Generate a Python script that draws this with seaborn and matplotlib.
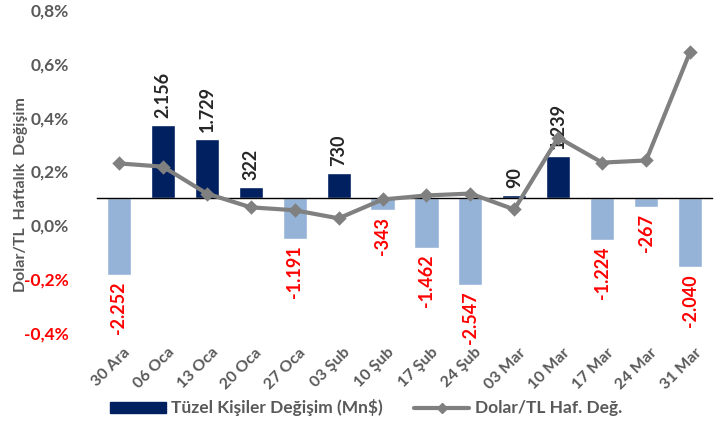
import numpy as np
import pandas as pd
import matplotlib
matplotlib.use('Agg')
import matplotlib.pyplot as plt
from matplotlib.lines import Line2D
from matplotlib.patches import Patch
import seaborn as sns

# data
weeks = ['30 Ara', '06 Oca', '13 Oca', '20 Oca', '27 Oca', '03 Şub', '10 Şub',
         '17 Şub', '24 Şub', '03 Mar', '10 Mar', '17 Mar', '24 Mar', '31 Mar']
# Tüzel kişiler weekly change (Mn$)
tuzel = [-2252, 2156, 1729, 322, -1191, 730, -343, -1462, -2547, 90, 1239, -1224, -267, -2040]
# Dolar/TL weekly change (%)
usd_chg = [0.230, 0.218, 0.118, 0.067, 0.056, 0.026, 0.096,
           0.111, 0.118, 0.059, 0.326, 0.233, 0.241, 0.644]

pct_ticks = [-0.4, -0.2, 0.0, 0.2, 0.4, 0.6, 0.8]

navy = '#002060'
light = '#95B3D7'
grey = '#808080'
txt = '#595959'
red = '#FF0000'

sns.set_style('white')
plt.rcParams['font.family'] = ['Lato', 'DejaVu Sans']
plt.rcParams['font.weight'] = 'bold'

df = pd.DataFrame({'week': weeks, 'tuzel': tuzel, 'usd': usd_chg})
df['sign'] = np.where(df['tuzel'] >= 0, 'pos', 'neg')


def fmt_tr(v):
    # thousands with a dot, Turkish style
    return f'{v:,}'.replace(',', '.')


fig = plt.figure(figsize=(7.21, 4.26), dpi=100)
ax = fig.add_axes([97 / 721, 1 - 333 / 426, 615 / 721, 323 / 426])
ax2 = ax.twinx()

# bars (secondary scale, hidden)
sns.barplot(data=df, x='week', y='tuzel', hue='sign', palette={'pos': navy, 'neg': light},
            dodge=False, width=0.55, legend=False, ax=ax, saturation=1)
ax.set_ylim(-3970, 5530)

for i, v in enumerate(df['tuzel']):
    if v >= 0:
        ax.annotate(fmt_tr(v), (i, v), xytext=(0, 5), textcoords='offset points', rotation=90,
                    ha='center', va='bottom', fontsize=13, fontweight='bold', color='#262626')
    else:
        ax.annotate(fmt_tr(v), (i, v), xytext=(0, -5), textcoords='offset points', rotation=90,
                    ha='center', va='top', fontsize=13, fontweight='bold', color=red)

# line (primary % scale, shown on the left)
sns.pointplot(data=df, x='week', y='usd', color=grey, markers='D', markersize=5,
              linewidth=3, ax=ax2)
ax2.set_ylim(-0.4, 0.8)
ax2.yaxis.set_ticks_position('left')
ax2.yaxis.set_label_position('left')
ax2.set_yticks(pct_ticks)
ax2.set_yticklabels([f'{t:.1f}%'.replace('.', ',') for t in pct_ticks])
for t, lbl in zip(pct_ticks, ax2.get_yticklabels()):
    lbl.set_color(red if t < 0 else txt)
    lbl.set_fontweight('bold')
    lbl.set_fontsize(12.5)
ax2.tick_params(axis='y', length=0, pad=20)
ax2.set_ylabel('Dolar/TL  Haftalık  Değişim', fontsize=11.5, fontweight='bold', color=txt)
ax2.yaxis.set_label_coords(-0.112, 0.43)

ax.set_ylabel('')
ax.set_xlabel('')
ax2.set_xlabel('')
ax.set_yticks([])
for a in (ax, ax2):
    for s in a.spines.values():
        s.set_visible(False)

# category axis at the bar zero line
ax.set_xlim(-0.5, len(weeks) - 0.5)
ax.spines['bottom'].set_visible(True)
ax.spines['bottom'].set_position(('data', 0))
ax.spines['bottom'].set_color('black')
ax.spines['bottom'].set_linewidth(1)
ax.set_xticks(np.arange(len(weeks)))
ax.set_xticks(np.arange(len(weeks) + 1) - 0.5, minor=True)
ax.tick_params(axis='x', which='major', length=0, labelbottom=False)
ax.tick_params(axis='x', which='minor', length=5, direction='out', color='black')
ax2.tick_params(axis='x', which='both', length=0, labelbottom=False)

# tick labels at the bottom of the plot area
for i, w in enumerate(weeks):
    ax.annotate(w, (i, 0), xycoords=('data', 'axes fraction'), xytext=(3, -9),
                textcoords='offset points', rotation=45, ha='right', va='top',
                rotation_mode='anchor', fontsize=11.5, fontweight='bold', color=txt)

handles = [Patch(facecolor=navy, edgecolor=navy),
           Line2D([0], [0], color=grey, lw=3, marker='D', markersize=5)]
fig.legend(handles, ['Tüzel Kişiler Değişim (Mn$)', 'Dolar/TL Haf. Değ.'],
           loc='center', bbox_to_anchor=(366 / 721, 1 - 408 / 426), ncol=2, frameon=False,
           prop={'weight': 'bold', 'size': 12.5}, labelcolor=txt, handlelength=3.2,
           handleheight=0.6, columnspacing=1.8, handletextpad=0.3)

fig.savefig('out.png', dpi=100)
